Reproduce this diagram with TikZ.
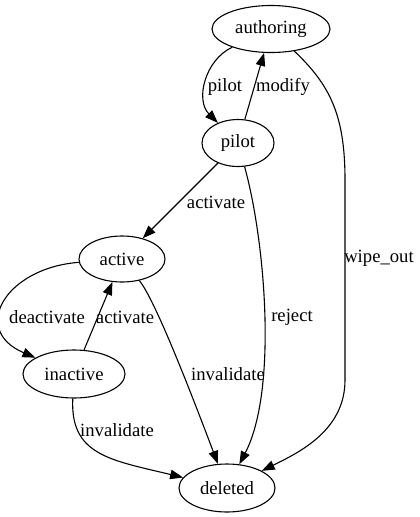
\documentclass[tikz,border=0pt]{standalone}
\usepackage{fontspec}
\setmainfont{Liberation Serif}
\usetikzlibrary{shapes.geometric, arrows.meta, positioning}

\begin{document}
\begin{tikzpicture}[
        x=1pt, y=-1pt,
        state/.style={ellipse, draw, line width=1.1pt, inner sep=0pt, font=\fontsize{18.67}{22}\selectfont},
        lbl/.style={inner sep=0pt, font=\fontsize{18.67}{22}\selectfont},
        edge/.style={line width=1.1pt, -{Triangle[length=13pt, width=9.5pt]}}
    ]
        \useasboundingbox (0,0) rectangle (420,517);

        % States
        \node[state, minimum width=118pt, minimum height=47pt] (authoring) at (271,29) {authoring};
        \node[state, minimum width=72pt, minimum height=47pt] (pilot) at (238,143) {pilot};
        \node[state, minimum width=86pt, minimum height=46pt] (active) at (122,259) {active};
        \node[state, minimum width=102pt, minimum height=48pt] (inactive) at (74,374) {inactive};
        \node[state, minimum width=96pt, minimum height=48pt] (deleted) at (227,488) {deleted};

        % Transitions
        \draw[edge] (authoring) .. controls (205,60) and (195,100) .. (pilot);
        \draw[edge] (pilot) -- (authoring);
        \draw[edge] (pilot) -- (active);
        \draw[edge] (pilot) .. controls (265,240) and (278,390) .. (deleted);
        \draw[edge] (authoring) .. controls (330,85) and (345,115) .. (345,180) -- (345,380) .. controls (345,430) and (300,452) .. (deleted);
        \draw[edge] (active) .. controls (5,268) and (-30,330) .. (inactive);
        \draw[edge] (inactive) -- (active);
        \draw[edge] (active) .. controls (155,300) and (190,390) .. (deleted);
        \draw[edge] (inactive) .. controls (70,455) and (110,460) .. (deleted);

        % Labels
        \node[lbl] (lpilot) at (225,87) {pilot};
        \node[lbl] (lmodify) at (283,87) {modify};
        \node[lbl] (lactivate) at (216,202) {activate};
        \node[lbl] (lwipe) at (379,258) {wipe\_out};
        \node[lbl] (lreject) at (292,317) {reject};
        \node[lbl] (ldeactivate) at (47,317) {deactivate};
        \node[lbl] (lreactivate) at (125,317) {activate};
        \node[lbl] (linvalidate) at (228,374) {invalidate};
        \node[lbl] (linvalidate2) at (117,430) {invalidate};
    \end{tikzpicture}
\end{document}
